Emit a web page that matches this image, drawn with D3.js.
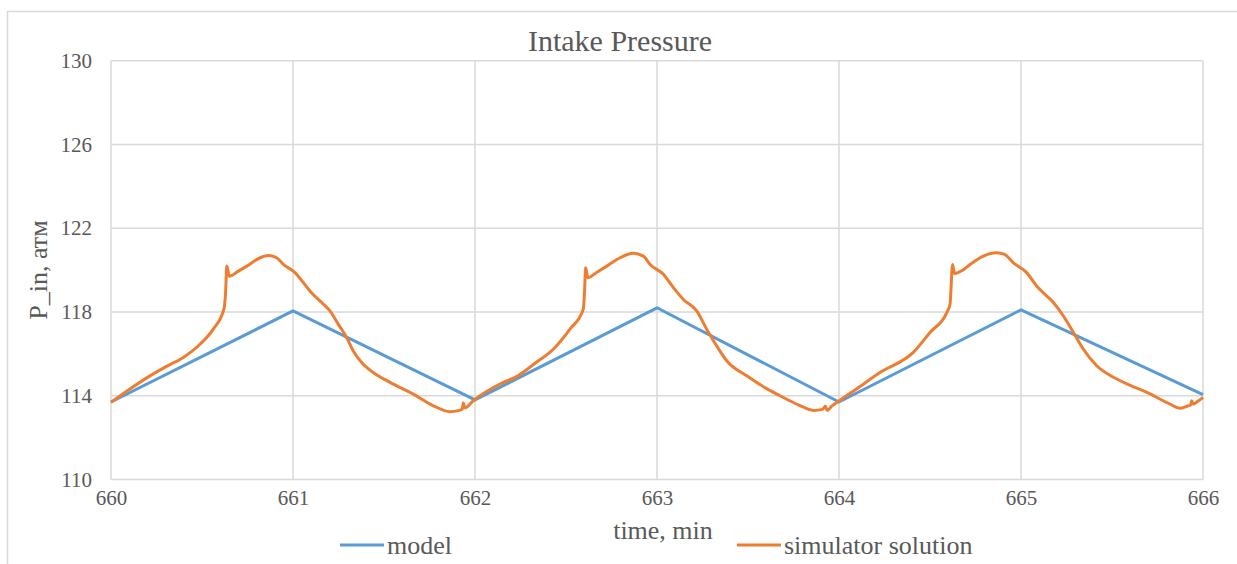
<!DOCTYPE html>
<html>
<head>
<meta charset="utf-8">
<script src="https://cdn.jsdelivr.net/npm/d3@7"></script>
<style>
  html, body { margin: 0; padding: 0; background: #fff; }
  svg { display: block; }
  svg text { font-family: "Liberation Serif", "Times New Roman", serif !important; fill: #595959; }
</style>
</head>
<body>
<svg id="chart" width="1237" height="564"></svg>
<script>
// Model: piecewise-linear intake pressure
const modelTime = [660, 661, 662, 663, 664, 665, 666];
const modelPressure = [113.7, 118.05, 113.8, 118.2, 113.7, 118.1, 114.05];

// Simulator solution
const simTime = [
  660.000, 660.100, 660.214, 660.300, 660.397, 660.489, 660.562, 660.621, 660.630, 660.636,
  660.650, 660.700, 660.746, 660.819, 660.865, 660.910, 660.947, 661.011, 661.057, 661.093,
  661.167, 661.203, 661.249, 661.295, 661.331, 661.377, 661.441, 661.533, 661.661, 661.771,
  661.863, 661.908, 661.930, 661.936, 661.945, 661.990, 662.137,
  662.236, 662.330, 662.430, 662.522, 662.595, 662.602, 662.608, 662.620, 662.670, 662.724,
  662.797, 662.870, 662.925, 662.962, 663.035, 663.090, 663.145, 663.218, 663.273, 663.328,
  663.383, 663.493, 663.600, 663.676, 663.780, 663.860, 663.910, 663.925, 663.935, 663.960,
  664.000, 664.100,
  664.225, 664.408, 664.500, 664.592, 664.610, 664.624, 664.635, 664.680, 664.720, 664.793,
  664.866, 664.910, 664.958, 665.031, 665.086, 665.178, 665.233, 665.288, 665.343, 665.416,
  665.508, 665.600, 665.692, 665.819, 665.874, 665.919, 665.932, 665.938, 665.945, 665.970,
  666.000
];
const simPressure = [
  113.69, 114.30, 114.95, 115.38, 115.83, 116.46, 117.18, 118.16, 119.00, 120.19,
  119.71, 119.95, 120.19, 120.59, 120.70, 120.59, 120.27, 119.88, 119.40, 119.00,
  118.37, 118.05, 117.41, 116.78, 116.14, 115.59, 115.11, 114.64, 114.08, 113.52,
  113.24, 113.29, 113.35, 113.65, 113.42, 113.76, 114.56,
  114.95, 115.55, 116.22, 117.18, 118.13, 119.00, 120.11, 119.64, 119.90, 120.19,
  120.59, 120.80, 120.67, 120.27, 119.80, 119.16, 118.60, 118.05, 117.18, 116.38,
  115.67, 114.95, 114.35, 114.00, 113.55, 113.30, 113.35, 113.50, 113.30, 113.50,
  113.75, 114.35,
  115.11, 116.07, 117.02, 117.97, 118.37, 120.27, 119.84, 120.00, 120.27, 120.67,
  120.83, 120.75, 120.35, 119.88, 119.24, 118.45, 117.81, 117.02, 116.22, 115.43,
  114.88, 114.50, 114.16, 113.60, 113.40, 113.52, 113.55, 113.76, 113.60, 113.72,
  113.92
];

const xTicks = [660, 661, 662, 663, 664, 665, 666];
const yTicks = [110, 114, 118, 122, 126, 130];

const titleText = "Intake Pressure";
const xTitle = "time, min";
const yTitle = "P_in, атм";
const seriesNames = ["model", "simulator solution"];
const seriesColors = ["#5B9BD5", "#ED7D31"];

const FONT = '"Liberation Serif", "Times New Roman", serif';

const svg = d3.select("#chart");
const plot = { left: 111, right: 1203, top: 60.7, bottom: 479.5 };

const x = d3.scaleLinear().domain([660, 666]).range([plot.left, plot.right]);
const y = d3.scaleLinear().domain([110, 130]).range([plot.bottom, plot.top]);

// chart frame
svg.append("rect")
  .attr("x", 7.5).attr("y", 11.5)
  .attr("width", 1240).attr("height", 570)
  .attr("fill", "none").attr("stroke", "#d9d9d9").attr("stroke-width", 1.5);

// gridlines
const grid = svg.append("g");
grid.selectAll("line.h").data(yTicks).join("line")
  .attr("x1", plot.left).attr("x2", plot.right)
  .attr("y1", d => y(d)).attr("y2", d => y(d))
  .attr("stroke", "#d9d9d9").attr("stroke-width", 1.5);
grid.selectAll("line.v").data(xTicks).join("line")
  .attr("x1", d => x(d)).attr("x2", d => x(d))
  .attr("y1", plot.top).attr("y2", plot.bottom)
  .attr("stroke", "#d9d9d9").attr("stroke-width", 1.5);

// axes (tick labels only; axis lines come from the gridlines)
const xAxis = svg.append("g")
  .attr("transform", `translate(0,${plot.bottom})`)
  .call(d3.axisBottom(x).tickValues(xTicks).tickSize(0).tickPadding(11).tickFormat(d3.format("d")));
const yAxis = svg.append("g")
  .attr("transform", `translate(${plot.left},0)`)
  .call(d3.axisLeft(y).tickValues(yTicks).tickSize(0).tickPadding(19).tickFormat(d3.format("d")));
[xAxis, yAxis].forEach(g => {
  g.attr("font-family", null).attr("font-size", null);
  g.select(".domain").remove();
  g.selectAll("text")
    .style("font-family", FONT)
    .style("font-size", "21px")
    .style("fill", "#595959");
});

// series
const line = d3.line().x(d => x(d[0])).y(d => y(d[1]));

svg.append("path")
  .datum(modelTime.map((t, i) => [t, modelPressure[i]]))
  .attr("d", line)
  .attr("fill", "none").attr("stroke", seriesColors[0]).attr("stroke-width", 3)
  .attr("stroke-linejoin", "round");

svg.append("path")
  .datum(simTime.map((t, i) => [t, simPressure[i]]))
  .attr("d", line.curve(d3.curveMonotoneX))
  .attr("fill", "none").attr("stroke", seriesColors[1]).attr("stroke-width", 3)
  .attr("stroke-linejoin", "round");

// title
svg.append("text")
  .attr("x", 620).attr("y", 51)
  .attr("text-anchor", "middle")
  .style("font-family", FONT).style("font-size", "30px")
  .text(titleText);

// axis titles
svg.append("text")
  .attr("x", 663).attr("y", 539)
  .attr("text-anchor", "middle")
  .style("font-family", FONT).style("font-size", "26px")
  .text(xTitle);
svg.append("text")
  .attr("transform", `translate(47,${(plot.top + plot.bottom) / 2}) rotate(-90)`)
  .attr("text-anchor", "middle")
  .style("font-family", FONT).style("font-size", "26px")
  .text(yTitle);

// legend
const legend = [
  { name: seriesNames[0], color: seriesColors[0], x: 340 },
  { name: seriesNames[1], color: seriesColors[1], x: 737 }
];
const lg = svg.selectAll("g.legend").data(legend).join("g")
  .attr("transform", d => `translate(${d.x},545)`);
lg.append("line")
  .attr("x1", 0).attr("x2", 44).attr("y1", 0).attr("y2", 0)
  .attr("stroke", d => d.color).attr("stroke-width", 3);
lg.append("text")
  .attr("x", 47).attr("y", 9)
  .style("font-family", FONT).style("font-size", "26px")
  .text(d => d.name);
</script>
</body>
</html>
